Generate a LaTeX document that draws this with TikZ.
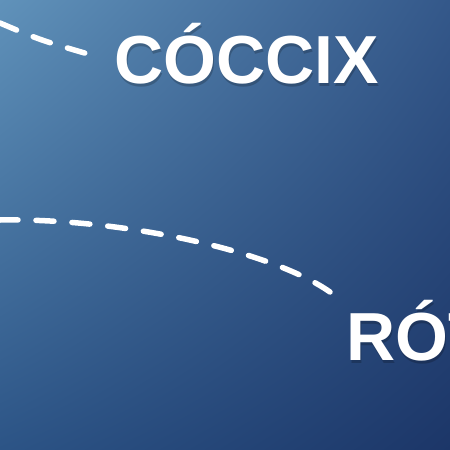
\documentclass[tikz,border=0pt]{standalone}
\usepackage{fontspec}
\setmainfont{Liberation Sans}
\usetikzlibrary{positioning,shadings}
\definecolor{bgTL}{RGB}{96,146,186}
\definecolor{bgTR}{RGB}{52,88,138}
\definecolor{bgBL}{RGB}{44,84,134}
\definecolor{bgBR}{RGB}{28,54,104}
\begin{document}
\begin{tikzpicture}[x=1pt,y=-1pt]
    \tikzstyle{label}=[text=white, font=\fontsize{68}{68}\selectfont\bfseries, inner sep=0pt, anchor=base west]
    \tikzstyle{shadowlabel}=[label, text=black, opacity=0.2]
    \tikzstyle{dashline}=[white, line width=5.5pt, line cap=round, dash pattern=on 18pt off 18pt]
    \useasboundingbox (0,0) rectangle (450,450);
    \clip (0,0) rectangle (450,450);
    \shade[upper left=bgTL, upper right=bgTR, lower left=bgBL, lower right=bgBR] (0,0) rectangle (450,450);
    % labels
    \node[shadowlabel] (coccixs) at (115,86) {CÓCCIX};
    \node[label] (coccix) at (114,83) {CÓCCIX};
    \node[shadowlabel] (rots) at (347,363) {RÓT};
    \node[label] (rot) at (346,360) {RÓT};
    % dashed leaders
    \coordinate (c1) at (0,23);
    \coordinate (c1e) at ([xshift=-26pt,yshift=29pt]coccix.base west);
    \coordinate (c2) at (0,220);
    \coordinate (c2e) at ([xshift=-16pt,yshift=68pt]rot.base west);
    \draw[dashline] (c1) .. controls (40,40) .. (c1e);
    \draw[dashline] (c2) .. controls (120,218) and (270,250) .. (c2e);
    %\draw c1 c2;
\end{tikzpicture}
\end{document}
